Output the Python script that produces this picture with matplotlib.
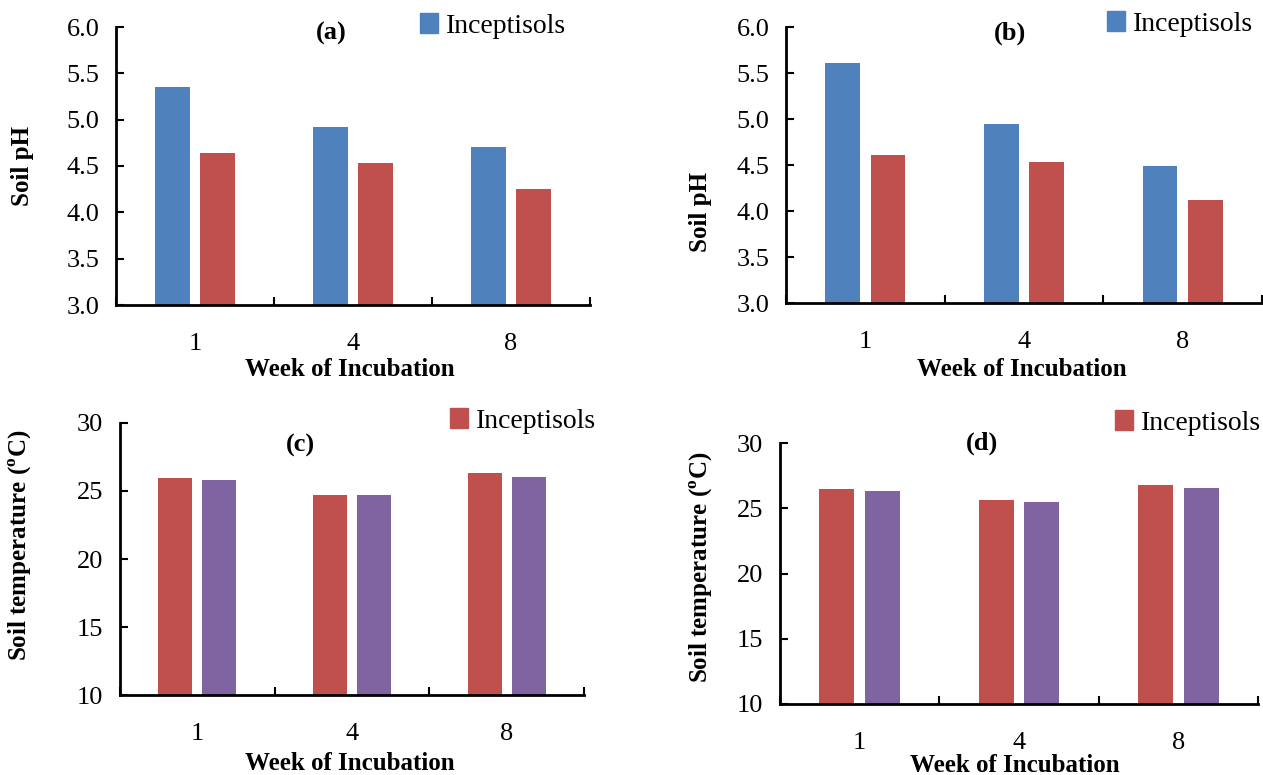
import matplotlib
matplotlib.use("Agg")
import matplotlib.pyplot as plt
from matplotlib.patches import Patch
import numpy as np

plt.rcParams['font.family'] = ['Liberation Serif', 'DejaVu Serif']
plt.rcParams['mathtext.fontset'] = 'custom'
plt.rcParams['mathtext.rm'] = 'Liberation Serif'
plt.rcParams['mathtext.bf'] = 'Liberation Serif:bold'

# data
weeks = ['1', '4', '8']
ph_a_incept = [5.35, 4.92, 4.70]
ph_a_other = [4.64, 4.53, 4.25]
ph_b_incept = [5.61, 4.95, 4.49]
ph_b_other = [4.61, 4.53, 4.12]
temp_c_incept = [25.92, 24.73, 26.30]
temp_c_other = [25.80, 24.73, 26.04]
temp_d_incept = [26.44, 25.60, 26.80]
temp_d_other = [26.29, 25.49, 26.52]

blue = '#4F81BD'
red = '#C0504D'
purple = '#8064A2'

W, H = 1263, 775
fig = plt.figure(figsize=(W / 100, H / 100), dpi=100)


def px(x, y):  # pixel -> figure fraction
    return x / W, 1 - y / H


def draw_panel(rect, s1, s2, c1, c2, ylim, yticks, yfmt, ylabel, ylab_xy,
               tag, tag_xy, leg_xy, xlab_xy):
    l, t, r, b = rect
    ax = fig.add_axes([l / W, 1 - b / H, (r - l) / W, (b - t) / H])
    x = np.arange(len(weeks))
    w = 0.22
    ax.bar(x - 0.143, s1, w, color=c1, label='Inceptisols')
    ax.bar(x + 0.143, s2, w, color=c2)
    ax.set_xlim(-0.5, len(weeks) - 0.5)
    ax.set_ylim(*ylim)
    ax.set_yticks(yticks)
    ax.set_yticklabels([yfmt.format(v) for v in yticks], fontsize=19)
    ax.set_xticks(np.arange(len(weeks) + 1) - 0.5)
    ax.set_xticklabels([])
    ax.set_xticks(x, minor=True)
    ax.set_xticklabels(weeks, minor=True, fontsize=19)
    ax.tick_params(axis='x', which='minor', length=0, pad=20)
    ax.tick_params(axis='both', which='major', direction='in', length=6,
                   width=1.5)
    ax.tick_params(axis='y', pad=12)
    for s in ['top', 'right']:
        ax.spines[s].set_visible(False)
    for s in ['left', 'bottom']:
        ax.spines[s].set_linewidth(2)
    fx, fy = px(*ylab_xy)
    fig.text(fx, fy, ylabel, rotation=90, ha='center', va='center',
             fontsize=18, fontweight='bold')
    fx, fy = px(*xlab_xy)
    fig.text(fx, fy, 'Week of Incubation', ha='center', va='center',
             fontsize=18, fontweight='bold')
    fx, fy = px(*tag_xy)
    fig.text(fx, fy, tag, ha='center', va='center', fontsize=19,
             fontweight='bold')
    fx, fy = px(*leg_xy)
    ax.legend(handles=[Patch(color=c1)], labels=['Inceptisols'],
              loc='upper left', bbox_to_anchor=(fx, fy),
              bbox_transform=fig.transFigure, frameon=False, fontsize=20,
              handlelength=0.65, handleheight=0.75, handletextpad=0.3,
              borderpad=0, borderaxespad=0)
    return ax


temp_label = r'Soil temperature ($^{\mathbf{o}}$C)'

draw_panel((116, 27, 590, 305), ph_a_incept, ph_a_other, blue, red,
           (3.0, 6.0), [3.0, 3.5, 4.0, 4.5, 5.0, 5.5, 6.0], '{:.1f}',
           'Soil pH', (22, 166), '(a)', (331, 33), (420, 13), (350, 370))
draw_panel((786, 27, 1262, 303), ph_b_incept, ph_b_other, blue, red,
           (3.0, 6.0), [3.0, 3.5, 4.0, 4.5, 5.0, 5.5, 6.0], '{:.1f}',
           'Soil pH', (700, 212), '(b)', (1010, 33), (1107, 11), (1022, 370))
draw_panel((120, 423, 584, 695), temp_c_incept, temp_c_other, red, purple,
           (10, 30), [10, 15, 20, 25, 30], '{:.0f}',
           temp_label, (20, 545), '(c)', (300, 445), (450, 408), (350, 763))
draw_panel((780, 443, 1258, 704), temp_d_incept, temp_d_other, red, purple,
           (10, 30), [10, 15, 20, 25, 30], '{:.0f}',
           temp_label, (701, 567), '(d)', (982, 443), (1115, 410), (1015, 765))

fig.savefig('out.png', dpi=100)
